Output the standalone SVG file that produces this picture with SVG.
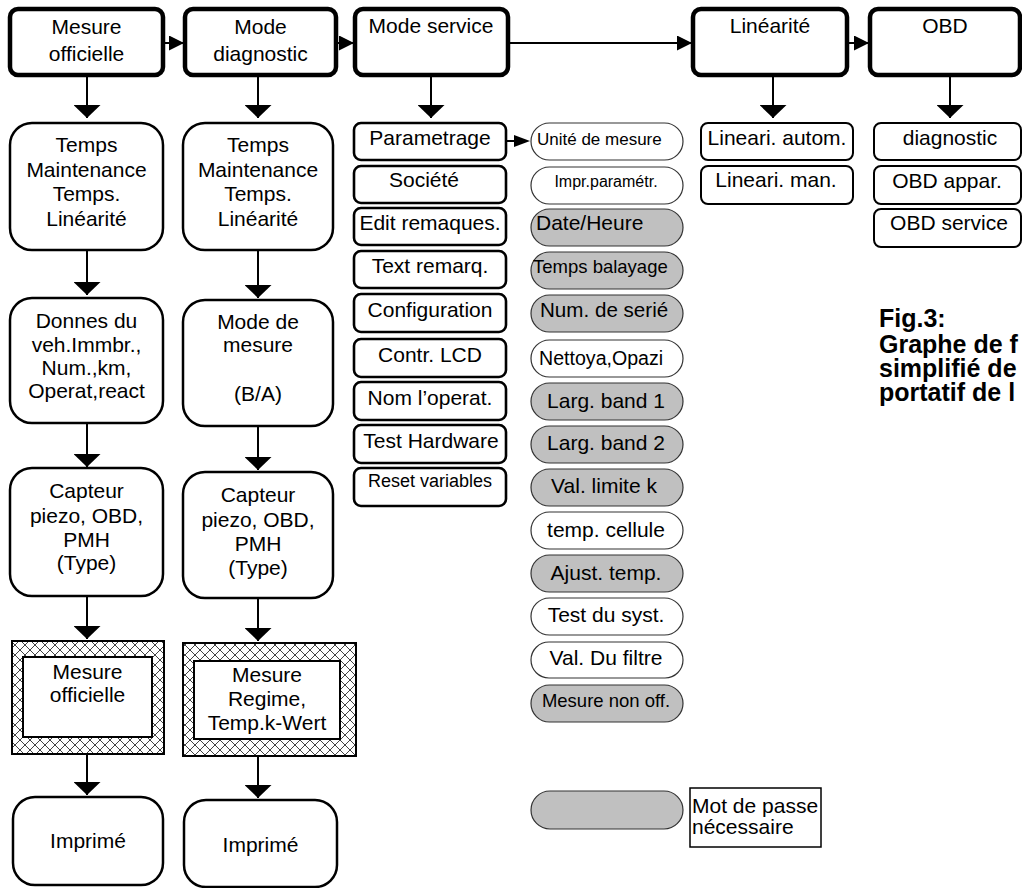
<svg xmlns="http://www.w3.org/2000/svg" width="1022" height="888" viewBox="0 0 1022 888">
<style>
text{font-family:"Liberation Sans",Arial,sans-serif;fill:#000;}
.t{font-size:21px;text-anchor:middle;}
.top{fill:#fff;stroke:#000;stroke-width:4.5;}
.big{fill:#fff;stroke:#000;stroke-width:2.5;}
.svc{fill:#fff;stroke:#000;stroke-width:2.6;}
.sub{fill:#fff;stroke:#000;stroke-width:2;}
.pw{fill:#fff;stroke:#333;stroke-width:1.2;}
.pg{fill:#c0c0c0;stroke:#333;stroke-width:1.2;}
.ln{stroke:#000;stroke-width:2;fill:none;}
.va{marker-end:url(#av);}
.ha{marker-end:url(#ah);}
.bold{font-size:25px;font-weight:bold;}
</style>
<defs>
<marker id="av" markerUnits="userSpaceOnUse" viewBox="0 0 13 27" markerWidth="13" markerHeight="27" refX="13" refY="13.5" orient="auto"><path d="M0,0 L13,13.5 L0,27 Z" fill="#000"/></marker>
<marker id="ah" markerUnits="userSpaceOnUse" viewBox="0 0 15 15" markerWidth="15" markerHeight="15" refX="15" refY="7.5" orient="auto"><path d="M0,0 L15,7.5 L0,15 Z" fill="#000"/></marker>
<pattern id="hatch" patternUnits="userSpaceOnUse" width="10" height="10">
<rect width="10" height="10" fill="#fff"/>
<path d="M0,0 L10,10 M10,0 L0,10" stroke="#222" stroke-width="0.85"/>
</pattern>
</defs>

<g id="connectors">
<line class="ln ha" x1="163" y1="43" x2="184" y2="43"/>
<line class="ln ha" x1="336" y1="43" x2="354" y2="43"/>
<line class="ln ha" x1="508" y1="43" x2="692" y2="43"/>
<line class="ln ha" x1="847" y1="43" x2="869" y2="43"/>
<line class="ln va" x1="87" y1="75" x2="87" y2="118"/>
<line class="ln va" x1="258" y1="75" x2="258" y2="118"/>
<line class="ln va" x1="431" y1="75" x2="431" y2="118"/>
<line class="ln va" x1="773" y1="75" x2="773" y2="118"/>
<line class="ln va" x1="950" y1="75" x2="950" y2="118"/>
<line class="ln va" x1="87" y1="250" x2="87" y2="295"/>
<line class="ln va" x1="87" y1="423" x2="87" y2="467"/>
<line class="ln va" x1="87" y1="596" x2="87" y2="639"/>
<line class="ln va" x1="87" y1="754" x2="87" y2="795"/>
<line class="ln va" x1="258" y1="250" x2="258" y2="298"/>
<line class="ln va" x1="258" y1="426" x2="258" y2="470"/>
<line class="ln va" x1="258" y1="598" x2="258" y2="641"/>
<line class="ln va" x1="258" y1="756" x2="258" y2="798"/>
<line class="ln" x1="506" y1="141" x2="516" y2="141"/>
<path d="M514,135 L530,141 L514,147 Z" fill="#000"/>
</g>

<g id="mesure-officielle"><rect class="top" x="10" y="9" width="153" height="66" rx="8"/><text class="t" x="86.5" y="34">Mesure</text><text class="t" x="86.5" y="61">officielle</text></g>
<g id="mode-diagnostic"><rect class="top" x="185" y="9" width="151" height="66" rx="8"/><text class="t" x="260.5" y="34">Mode</text><text class="t" x="260.5" y="61">diagnostic</text></g>
<g id="mode-service"><rect class="top" x="355" y="9" width="153" height="66" rx="8"/><text class="t" x="431" y="33">Mode service</text></g>
<g id="linearite"><rect class="top" x="693" y="9" width="154" height="66" rx="8"/><text class="t" x="770" y="33">Linéarité</text></g>
<g id="obd"><rect class="top" x="870" y="9" width="150" height="66" rx="8"/><text class="t" x="945" y="33">OBD</text></g>

<g id="temps1"><rect class="big" x="10" y="123" width="153" height="127" rx="22"/><text class="t" x="86.5" y="152">Temps</text><text class="t" x="86.5" y="176.5">Maintenance</text><text class="t" x="86.5" y="201">Temps.</text><text class="t" x="86.5" y="225.5">Linéarité</text></g>
<g id="temps2"><rect class="big" x="183" y="123" width="150" height="127" rx="22"/><text class="t" x="258" y="152">Temps</text><text class="t" x="258" y="176.5">Maintenance</text><text class="t" x="258" y="201">Temps.</text><text class="t" x="258" y="225.5">Linéarité</text></g>
<g id="donnes"><rect class="big" x="10" y="298" width="153" height="125" rx="22"/><text class="t" x="86.5" y="328">Donnes du</text><text class="t" x="86.5" y="352">veh.Immbr.,</text><text class="t" x="86.5" y="375">Num.,km,</text><text class="t" x="86.5" y="398">Operat,react</text></g>
<g id="mode-mesure"><rect class="big" x="183" y="300" width="150" height="126" rx="22"/><text class="t" x="258" y="329">Mode de</text><text class="t" x="258" y="352">mesure</text><text class="t" x="258" y="401">(B/A)</text></g>
<g id="capteur1"><rect class="big" x="10" y="468" width="153" height="128" rx="22"/><text class="t" x="86.5" y="498">Capteur</text><text class="t" x="86.5" y="523">piezo, OBD,</text><text class="t" x="86.5" y="547">PMH</text><text class="t" x="86.5" y="570">(Type)</text></g>
<g id="capteur2"><rect class="big" x="183" y="472" width="150" height="126" rx="22"/><text class="t" x="258" y="502">Capteur</text><text class="t" x="258" y="527">piezo, OBD,</text><text class="t" x="258" y="551">PMH</text><text class="t" x="258" y="575">(Type)</text></g>
<g id="mesure-off"><rect x="12" y="641" width="152" height="113" fill="url(#hatch)" stroke="#000" stroke-width="2"/><rect x="23" y="657" width="129" height="80" fill="#fff" stroke="#000" stroke-width="2"/><text class="t" x="87.5" y="679">Mesure</text><text class="t" x="87.5" y="702">officielle</text></g>
<g id="mesure-regime"><rect x="183" y="643" width="173" height="113" fill="url(#hatch)" stroke="#000" stroke-width="2"/><rect x="194" y="661" width="146" height="78" fill="#fff" stroke="#000" stroke-width="2"/><text class="t" x="267" y="682">Mesure</text><text class="t" x="267" y="706">Regime,</text><text class="t" x="267" y="730">Temp.k-Wert</text></g>
<g id="imprime1"><rect class="big" x="13" y="797" width="150" height="88" rx="22"/><text class="t" x="88" y="848">Imprimé</text></g>
<g id="imprime2"><rect class="big" x="184" y="800" width="153" height="87" rx="22"/><text class="t" x="260.5" y="852">Imprimé</text></g>

<g id="service-list">
<g id="parametrage"><rect class="svc" x="354" y="123" width="152" height="37" rx="7"/><text class="t" x="430" y="145">Parametrage</text></g>
<g id="societe"><rect class="svc" x="354" y="166" width="152" height="37" rx="7"/><text class="t" x="424" y="187">Société</text></g>
<g id="edit"><rect class="svc" x="354" y="208" width="152" height="37" rx="7"/><text class="t" x="430" y="230">Edit remaques.</text></g>
<g id="text-remarq"><rect class="svc" x="354" y="251" width="152" height="37" rx="7"/><text class="t" x="430" y="273">Text remarq.</text></g>
<g id="configuration"><rect class="svc" x="354" y="294" width="152" height="38" rx="7"/><text class="t" x="430" y="317">Configuration</text></g>
<g id="contr-lcd"><rect class="svc" x="354" y="339" width="152" height="38" rx="7"/><text class="t" x="430" y="362">Contr. LCD</text></g>
<g id="nom-operat"><rect class="svc" x="354" y="382" width="152" height="38" rx="7"/><text class="t" x="430" y="405">Nom l’operat.</text></g>
<g id="test-hardware"><rect class="svc" x="354" y="425" width="152" height="38" rx="7"/><text class="t" x="431" y="448">Test Hardware</text></g>
<g id="reset"><rect class="svc" x="354" y="468" width="152" height="38" rx="7"/><text class="t" x="430" y="487" style="font-size:18px">Reset variables</text></g>
</g>

<g id="param-list">
<g id="unite"><rect class="pw" x="531" y="123" width="152" height="37" rx="18.5"/><text x="537" y="145" style="font-size:17px">Unité de mesure</text></g>
<g id="impr"><rect class="pw" x="531" y="167" width="152" height="37" rx="18.5"/><text class="t" x="606" y="187" style="font-size:16px">Impr.paramétr.</text></g>
<g id="date"><rect class="pg" x="531" y="209" width="152" height="37" rx="18.5"/><text x="536" y="230" style="font-size:21px">Date/Heure</text></g>
<g id="balayage"><rect class="pg" x="531" y="252" width="152" height="37" rx="18.5"/><text x="533" y="273" style="font-size:18.5px">Temps balayage</text></g>
<g id="serie"><rect class="pg" x="531" y="295" width="152" height="37" rx="18.5"/><text x="540" y="317" style="font-size:20.6px">Num. de serié</text></g>
<g id="nettoya"><rect class="pw" x="531" y="340" width="152" height="37" rx="18.5"/><text x="539" y="365" style="font-size:19.6px">Nettoya,Opazi</text></g>
<g id="band1"><rect class="pg" x="531" y="383" width="152" height="37" rx="18.5"/><text class="t" x="606" y="408">Larg. band 1</text></g>
<g id="band2"><rect class="pg" x="531" y="426" width="152" height="37" rx="18.5"/><text class="t" x="606" y="450">Larg. band 2</text></g>
<g id="limite"><rect class="pg" x="531" y="469" width="152" height="37" rx="18.5"/><text class="t" x="604" y="493">Val. limite k</text></g>
<g id="cellule"><rect class="pw" x="531" y="512" width="152" height="37" rx="18.5"/><text class="t" x="606" y="537">temp. cellule</text></g>
<g id="ajust"><rect class="pg" x="531" y="555" width="152" height="37" rx="18.5"/><text class="t" x="606" y="580">Ajust. temp.</text></g>
<g id="test-syst"><rect class="pw" x="531" y="598" width="152" height="37" rx="18.5"/><text class="t" x="606" y="622">Test du syst.</text></g>
<g id="filtre"><rect class="pw" x="531" y="642" width="152" height="36" rx="18"/><text class="t" x="606" y="665">Val. Du filtre</text></g>
<g id="non-off"><rect class="pg" x="531" y="685" width="152" height="37" rx="18.5"/><text class="t" x="606" y="707" style="font-size:18.5px">Mesure non off.</text></g>
</g>

<g id="lin-auto"><rect class="sub" x="701" y="123" width="152" height="37" rx="7"/><text class="t" x="777" y="145">Lineari. autom.</text></g>
<g id="lin-man"><rect class="sub" x="701" y="166" width="152" height="38" rx="7"/><text class="t" x="776" y="187">Lineari. man.</text></g>
<g id="obd-diag"><rect class="sub" x="874" y="123" width="147" height="37" rx="7"/><text class="t" x="950" y="145">diagnostic</text></g>
<g id="obd-appar"><rect class="sub" x="874" y="166" width="147" height="38" rx="7"/><text class="t" x="947" y="188">OBD appar.</text></g>
<g id="obd-service"><rect class="sub" x="874" y="209" width="147" height="38" rx="7"/><text class="t" x="949" y="230">OBD service</text></g>

<g id="caption">
<text class="bold" x="879" y="327"><tspan x="879" y="327">Fig.3:</tspan><tspan x="879" y="353">Graphe de f</tspan><tspan x="879" y="377">simplifié de</tspan><tspan x="879" y="401">portatif de l</tspan></text>
</g>

<g id="legend">
<rect class="pg" x="531" y="791" width="152" height="38" rx="19"/>
<rect x="690" y="788" width="131" height="59" fill="#fff" stroke="#000" stroke-width="1.5"/>
<text x="692" y="813" style="font-size:21px">Mot de passe</text>
<text x="692" y="834" style="font-size:21px">nécessaire</text>
</g>
</svg>
